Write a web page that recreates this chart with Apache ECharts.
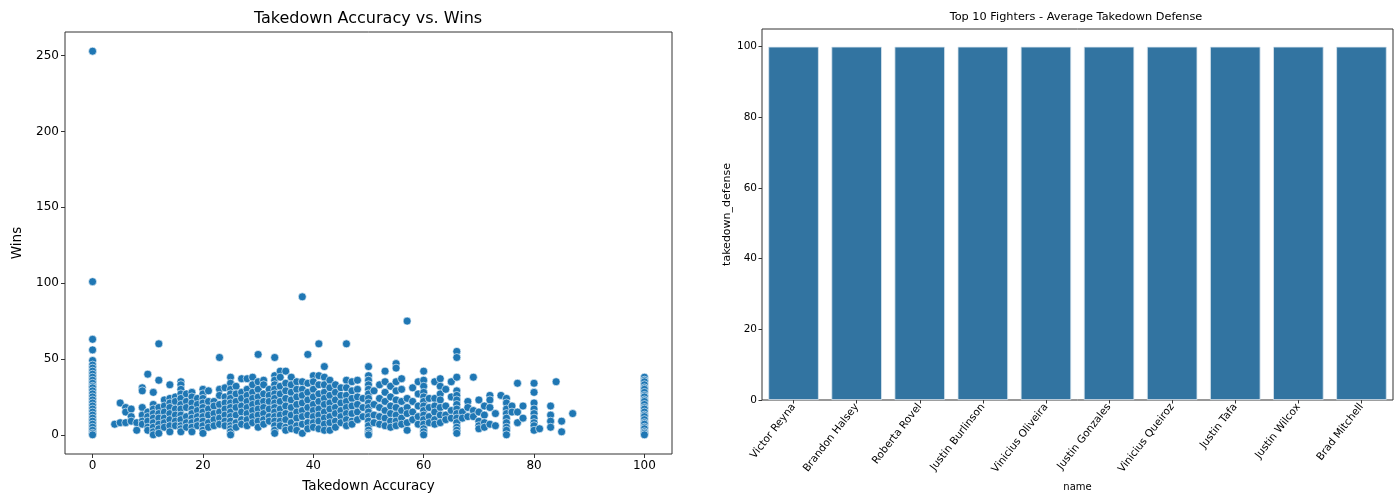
<!DOCTYPE html>
<html>
<head>
<meta charset="utf-8">
<script src="https://cdn.jsdelivr.net/npm/echarts@6/dist/echarts.min.js"></script>
<style>
  html, body { margin: 0; padding: 0; background: #fff; }
  #chart { width: 1397px; height: 494px; }
</style>
</head>
<body>
<div id="chart"></div>
<script>
// left: takedown accuracy vs wins, points grouped by accuracy value
const accuracyLevels = [0, 4, 5, 6, 7, 8, 9, 10, 11, 12, 13, 14, 15, 16, 17, 18, 19, 20,
  21, 22, 23, 24, 25, 26, 27, 28, 29, 30, 31, 32, 33, 34, 35, 36, 37, 38, 39, 40,
  41, 42, 43, 44, 45, 46, 47, 48, 49, 50, 51, 52, 53, 54, 55, 56, 57, 58, 59, 60,
  61, 62, 63, 64, 65, 66, 67, 68, 69, 70, 71, 72, 73, 74, 75, 76, 77, 78, 80, 81,
  83, 84, 85, 87, 100];
const winsAtLevel = [
  [253, 101, 63, 56, 49, 46, 44, 42, 40, 38, 36, 34, 32, 31, 29, 27, 25, 23, 21, 19, 17, 15, 13, 11, 9, 7, 5, 3, 1, 0],
  [7], [21, 8], [18, 15, 8], [17, 12, 9], [8, 3],
  [31, 29, 18, 13, 9, 7],
  [40, 15, 12, 9, 5, 3],
  [28, 20, 17, 14, 11, 8, 5, 2, 0],
  [60, 36, 18, 14, 11, 7, 4, 1],
  [23, 19, 15, 11, 8, 5],
  [33, 24, 21, 18, 14, 10, 6, 2],
  [25, 22, 17, 13, 9, 6],
  [35, 33, 30, 27, 24, 20, 17, 13, 10, 6, 4, 2],
  [27, 22, 18, 12, 8, 5],
  [28, 25, 21, 17, 14, 11, 8, 5, 2],
  [24, 20, 16, 12, 9, 6],
  [30, 27, 24, 21, 18, 15, 12, 9, 6, 3, 1],
  [29, 22, 17, 13, 8, 5],
  [22, 19, 14, 10, 6],
  [51, 30, 26, 20, 15, 11, 7],
  [31, 25, 21, 17, 13, 9, 6],
  [38, 34, 30, 27, 24, 21, 18, 15, 12, 9, 6, 4, 2, 0],
  [32, 27, 22, 18, 13, 8, 5],
  [37, 28, 24, 19, 15, 10, 7],
  [37, 30, 26, 22, 18, 14, 10, 6],
  [38, 33, 28, 24, 20, 16, 12, 8],
  [53, 35, 30, 25, 21, 17, 13, 9, 5],
  [36, 33, 27, 22, 18, 14, 10, 7],
  [30, 26, 22, 17, 12, 9],
  [51, 39, 36, 33, 30, 27, 24, 21, 18, 15, 12, 9, 6, 3, 1],
  [42, 38, 32, 27, 22, 17, 13, 9, 6],
  [42, 34, 29, 24, 19, 14, 10, 5, 3],
  [38, 33, 28, 23, 18, 13, 8, 4],
  [35, 30, 25, 20, 15, 11, 6, 3],
  [91, 35, 30, 26, 21, 16, 12, 7, 1],
  [53, 34, 28, 23, 18, 13, 8, 4],
  [39, 35, 30, 25, 20, 16, 12, 8, 5],
  [60, 39, 33, 27, 22, 17, 13, 9, 4],
  [45, 38, 33, 28, 24, 20, 15, 11, 7, 3],
  [36, 31, 26, 21, 17, 12, 8, 3],
  [33, 28, 23, 18, 14, 9, 5],
  [31, 26, 21, 16, 12, 8],
  [60, 36, 31, 26, 22, 18, 14, 10, 6],
  [35, 29, 24, 19, 14, 9, 7],
  [36, 30, 25, 20, 15, 10],
  [24, 18, 12],
  [45, 39, 36, 33, 30, 27, 24, 21, 18, 15, 12, 9, 6, 3, 1, 0],
  [29, 20, 13, 8],
  [33, 24, 18, 12, 7],
  [42, 35, 28, 22, 16, 11, 6],
  [32, 25, 19, 14, 9, 5],
  [47, 44, 35, 29, 23, 18, 13, 9, 6],
  [37, 30, 22, 16, 11, 7],
  [75, 24, 18, 14, 8, 3],
  [31, 22, 15, 10],
  [35, 27, 19, 12, 7],
  [42, 36, 32, 28, 25, 22, 19, 16, 13, 10, 7, 4, 2, 0],
  [24, 18, 12, 8],
  [35, 24, 19, 15, 10, 7],
  [37, 32, 27, 23, 18, 13, 8],
  [30, 19, 13, 10],
  [35, 25, 16, 11],
  [55, 51, 38, 29, 26, 23, 20, 17, 14, 11, 8, 5, 3, 1],
  [15, 11], [22, 18, 12], [38, 16, 12],
  [23, 15, 9, 6, 4],
  [19, 13, 8, 5],
  [26, 23, 18, 7],
  [14, 6], [26],
  [24, 21, 17, 14, 11, 8, 5, 3, 0],
  [19, 15], [34, 15, 8], [19, 11],
  [34, 28, 21, 17, 14, 11, 8, 6, 3],
  [4], [19, 13, 9, 5], [35], [9, 2], [14],
  [38, 36, 35, 33, 31, 30, 28, 26, 25, 23, 22, 20, 18, 17, 15, 13, 12, 10, 8, 7, 5, 4, 2, 1, 0]
];
const accuracyTicks = [0, 20, 40, 60, 80, 100];
const winsTicks = [0, 50, 100, 150, 200, 250];

// right: top 10 fighters by takedown defense
const fighterNames = ['Victor Reyna', 'Brandon Halsey', 'Roberta Rovel', 'Justin Burlinson',
  'Vinicius Oliveira', 'Justin Gonzales', 'Vinicius Queiroz', 'Justin Tafa',
  'Justin Wilcox', 'Brad Mitchell'];
const takedownDefense = [100, 100, 100, 100, 100, 100, 100, 100, 100, 100];
const defenseTicks = [0, 20, 40, 60, 80, 100];

const points = [];
accuracyLevels.forEach((acc, i) => {
  winsAtLevel[i].forEach(w => points.push([acc, w]));
});

const font = 'DejaVu Sans';
const frame = '#333';

const chart = echarts.init(document.getElementById('chart'), null, {renderer: 'canvas'});
chart.setOption({
  animation: false,
  textStyle: {fontFamily: font},
  graphic: [
    {type: 'text', x: 368, y: 19, style: {text: 'Takedown Accuracy vs. Wins', font: '16px ' + font, fill: '#000', textAlign: 'center', textVerticalAlign: 'middle'}},
    {type: 'text', x: 1076, y: 17, style: {text: 'Top 10 Fighters - Average Takedown Defense', font: '11.3px ' + font, fill: '#000', textAlign: 'center', textVerticalAlign: 'middle'}}
  ],
  grid: [
    {left: 65, right: 725, top: 32, bottom: 40, outerBoundsMode: 'none', show: true, borderColor: frame, borderWidth: 1, backgroundColor: 'transparent'},
    {left: 762, right: 4, top: 29, bottom: 94, outerBoundsMode: 'none', show: true, borderColor: frame, borderWidth: 1, backgroundColor: 'transparent'}
  ],
  xAxis: [
    {
      gridIndex: 0, type: 'value', min: -5, max: 105,
      name: 'Takedown Accuracy', nameLocation: 'middle', nameGap: 25,
      nameTextStyle: {fontSize: 13.5, color: '#000'},
      axisLine: {show: false, onZero: false}, splitLine: {show: false},
      axisTick: {show: true, length: 4, lineStyle: {color: frame}, customValues: accuracyTicks},
      axisLabel: {fontSize: 12, color: '#000', margin: 6, customValues: accuracyTicks}
    },
    {
      gridIndex: 1, type: 'category', data: fighterNames,
      name: 'name', nameLocation: 'middle', nameGap: 82,
      nameTextStyle: {fontSize: 10, color: '#000'},
      axisLine: {show: false, onZero: false}, splitLine: {show: false},
      axisTick: {show: true, alignWithLabel: true, length: 3.5, lineStyle: {color: frame}},
      axisLabel: {fontSize: 10.5, color: '#000', rotate: 52, margin: 5, interval: 0}
    }
  ],
  yAxis: [
    {
      gridIndex: 0, type: 'value', min: -12.65, max: 265.65,
      name: 'Wins', nameLocation: 'middle', nameGap: 41,
      nameTextStyle: {fontSize: 13.5, color: '#000'},
      axisLine: {show: false, onZero: false}, splitLine: {show: false},
      axisTick: {show: true, length: 4, lineStyle: {color: frame}, customValues: winsTicks},
      axisLabel: {fontSize: 12, color: '#000', margin: 6, customValues: winsTicks}
    },
    {
      gridIndex: 1, type: 'value', min: 0, max: 105,
      name: 'takedown_defense', nameLocation: 'middle', nameGap: 27,
      nameTextStyle: {fontSize: 11, color: '#000'},
      axisLine: {show: false, onZero: false}, splitLine: {show: false},
      axisTick: {show: true, length: 3.5, lineStyle: {color: frame}, customValues: defenseTicks},
      axisLabel: {fontSize: 10.5, color: '#000', margin: 5, customValues: defenseTicks}
    }
  ],
  series: [
    {
      type: 'scatter', xAxisIndex: 0, yAxisIndex: 0, data: points,
      symbolSize: 8,
      itemStyle: {color: '#1f77b4', borderColor: '#ffffff', borderWidth: 0.6, opacity: 1}
    },
    {
      type: 'bar', xAxisIndex: 1, yAxisIndex: 1, data: takedownDefense,
      barCategoryGap: '20%',
      itemStyle: {color: '#3274a1', borderColor: '#dbe6ef', borderWidth: 0.8}
    }
  ]
});
window.addEventListener('resize', () => chart.resize());
</script>
</body>
</html>
